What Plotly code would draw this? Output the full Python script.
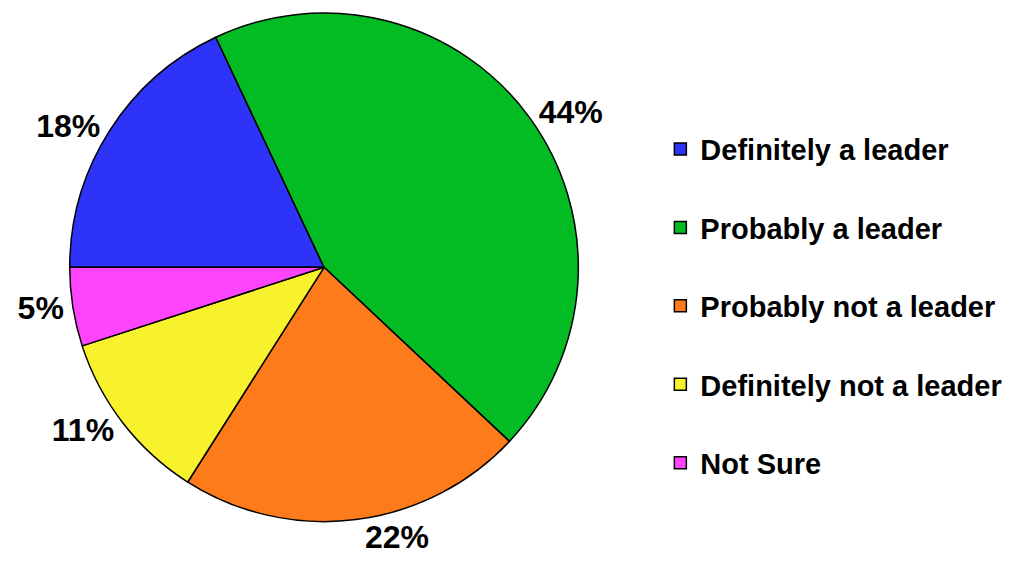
import plotly.graph_objects as go

# survey answers, in the order the slices run clockwise from 9 o'clock
labels = ["Definitely a leader", "Probably a leader", "Probably not a leader",
          "Definitely not a leader", "Not Sure"]
shares = [18, 44, 22, 11, 5]
colors = ["#2E33FA", "#03BC24", "#FD7B1A", "#F7F22B", "#FE44FC"]

ink = "black"
font_name = "Liberation Sans, Arial, sans-serif"

# a blank second line gives each legend entry the tall spacing of the original
legend_text = [lab + "<br> " for lab in labels]

fig = go.Figure()
fig.add_trace(go.Pie(labels = legend_text,
                     values = shares,
                     sort = False,
                     direction = "clockwise",
                     rotation = 270,
                     marker = dict(colors = colors,
                                   line = dict(color = ink, width = 1.5)),
                     texttemplate = "%{value}%",
                     textposition = "outside",
                     textfont = dict(family = font_name, size = 32,
                                     color = ink, weight = "bold"),
                     hovertemplate = "%{value}%<extra></extra>",
                     domain = dict(x = [0.057, 0.563], y = [0.095, 1.0])))

fig.update_layout(width = 1015, height = 567,
                  margin = dict(l = 0, r = 0, t = 0, b = 0),
                  paper_bgcolor = "white",
                  plot_bgcolor = "white",
                  showlegend = True,
                  legend = dict(x = 0.642, xanchor = "left",
                                y = 0.803, yanchor = "top",
                                valign = "top",
                                font = dict(family = font_name, size = 29,
                                            color = ink, weight = "bold"),
                                bgcolor = "rgba(0,0,0,0)"))

fig.write_html("out.html")
